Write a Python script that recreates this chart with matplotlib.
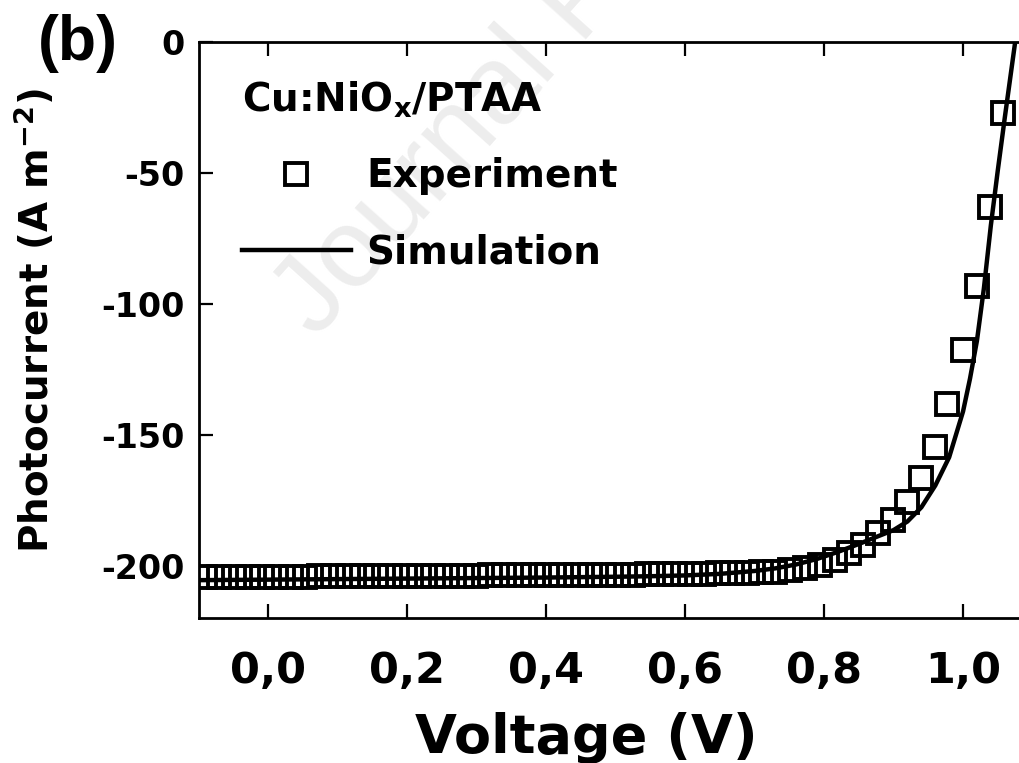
import matplotlib
matplotlib.use('Agg')
import matplotlib.pyplot as plt
from matplotlib.ticker import FuncFormatter

plt.rcParams['font.family'] = 'DejaVu Sans'
plt.rcParams['font.weight'] = 'bold'
plt.rcParams['axes.unicode_minus'] = False
plt.rcParams['mathtext.fontset'] = 'custom'
plt.rcParams['mathtext.rm'] = 'DejaVu Sans:bold'
plt.rcParams['mathtext.it'] = 'DejaVu Sans:bold'
plt.rcParams['mathtext.bf'] = 'DejaVu Sans:bold'

# experiment (squares), voltage in V, photocurrent in A m^-2
exp_v = [-0.090, -0.070, -0.049, -0.029, -0.008, 0.012, 0.033, 0.053, 0.074, 0.094,
         0.115, 0.135, 0.156, 0.176, 0.197, 0.217, 0.238, 0.258, 0.279, 0.299,
         0.320, 0.340, 0.361, 0.381, 0.402, 0.422, 0.443, 0.463, 0.484, 0.504,
         0.525, 0.545, 0.566, 0.586, 0.607, 0.627, 0.648, 0.668, 0.689, 0.709,
         0.730, 0.751, 0.773, 0.794, 0.816, 0.836, 0.856, 0.878, 0.899, 0.919,
         0.940, 0.960, 0.977, 1.000, 1.020, 1.039, 1.058]
exp_j = [-204.3, -204.3, -204.2, -204.2, -204.2, -204.1, -204.1, -204.1, -204.0, -204.0,
         -204.0, -203.9, -203.9, -203.9, -203.8, -203.8, -203.8, -203.7, -203.7, -203.7,
         -203.6, -203.6, -203.6, -203.5, -203.5, -203.5, -203.4, -203.4, -203.4, -203.3,
         -203.3, -203.2, -203.2, -203.1, -203.0, -202.9, -202.8, -202.7, -202.5, -202.4,
         -202.2, -201.5, -200.8, -199.6, -197.7, -195.2, -192.0, -187.4, -182.4, -175.6,
         -166.4, -154.6, -138.2, -117.6, -93.0, -63.0, -27.0]

# simulation (line)
sim_v = [-0.10, 0.00, 0.10, 0.20, 0.30, 0.40, 0.50, 0.55, 0.60, 0.65, 0.70, 0.73,
         0.76, 0.79, 0.82, 0.85, 0.88, 0.90, 0.92, 0.94, 0.96, 0.98, 1.00, 1.01,
         1.02, 1.03, 1.04, 1.05, 1.06, 1.075]
sim_j = [-205.4, -205.2, -205.0, -204.8, -204.6, -204.4, -204.1, -203.9, -203.6, -203.0,
         -201.9, -200.9, -199.4, -197.3, -194.6, -191.6, -188.4, -186.3, -183.0, -177.6,
         -169.3, -158.5, -141.0, -128.5, -114.0, -94.0, -70.0, -49.0, -29.0, 0.0]

xticks = [0.0, 0.2, 0.4, 0.6, 0.8, 1.0]
yticks = [0, -50, -100, -150, -200]

fig = plt.figure(figsize=(10.19, 7.63), dpi=100)
ax = fig.add_axes([0.1948, 0.1895, 0.8185, 0.7555])

# faint watermark of the source page
ax.text(0.31, 0.555, 'Journal Pre-proof', transform=fig.transFigure, rotation=48,
        rotation_mode='anchor', ha='left', va='baseline', fontsize=80,
        fontweight='normal', family='Liberation Sans', color='#ededed', zorder=0)

ax.plot(sim_v, sim_j, color='black', lw=3.2, zorder=3, label='Simulation')
ax.plot(exp_v, exp_j, ls='none', marker='s', ms=16, mfc='none', mec='black',
        mew=2.8, zorder=4, label='Experiment')

ax.set_xlim(-0.1, 1.1)
ax.set_ylim(-220, 0)
ax.set_xticks(xticks)
ax.set_yticks(yticks)
ax.xaxis.set_major_formatter(FuncFormatter(lambda v, p: f'{v:.1f}'.replace('.', ',')))
ax.tick_params(direction='in', length=10, width=1.6, top=True, right=True, labelsize=24)
ax.tick_params(axis='x', pad=23, labelsize=31)
ax.tick_params(axis='y', pad=10)
for s in ax.spines.values():
    s.set_linewidth(2)

ax.set_xlabel('Voltage (V)', fontsize=39, fontweight='bold')
ax.xaxis.set_label_coords(0.465, -0.163)
ax.set_ylabel('Photocurrent (A m$^{-2}$)', fontsize=28, fontweight='bold')
ax.yaxis.set_label_coords(-0.17, 0.517)

handles, labels = ax.get_legend_handles_labels()
leg = ax.legend(handles[::-1], labels[::-1], loc='upper left', bbox_to_anchor=(0.052, 0.935),
                frameon=False, fontsize=28, title='Cu:NiO$_x$/PTAA', title_fontsize=28,
                alignment='left', handlelength=2.8, handletextpad=0.4, labelspacing=0.97,
                borderaxespad=0, borderpad=0)
leg.get_title().set_fontweight('bold')

fig.text(0.037, 0.921, '(b)', fontsize=45, fontweight='bold', family='Liberation Sans')

fig.savefig('out.png', dpi=100)
